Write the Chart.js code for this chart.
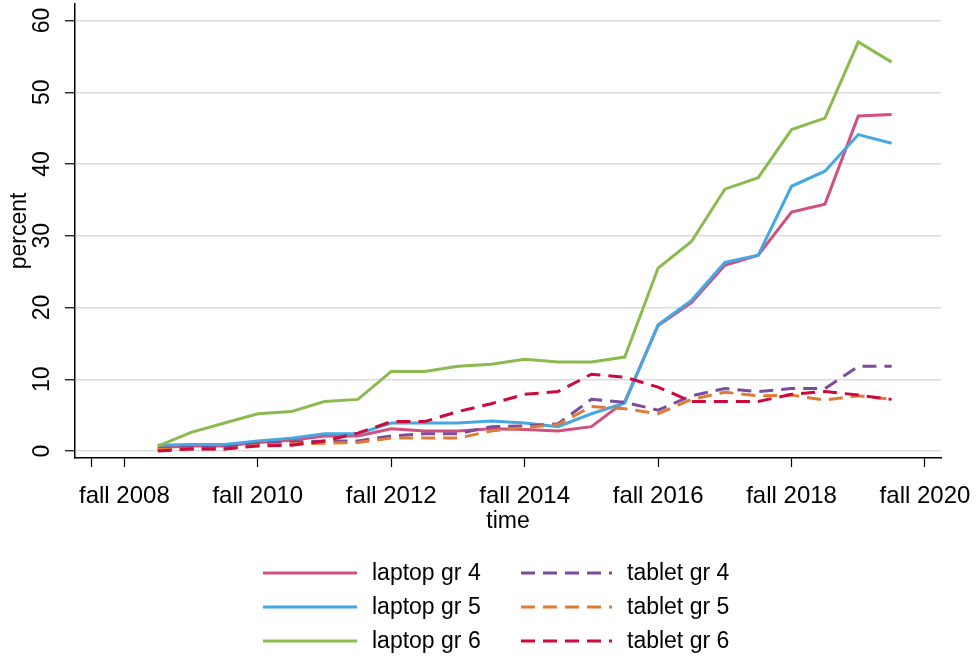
<!DOCTYPE html>
<html lang="en">
<head>
<meta charset="UTF-8">
<title>Laptop and tablet use by grade</title>
<script src="https://cdn.jsdelivr.net/npm/chart.js"></script>
<style>
  html, body { margin: 0; padding: 0; background: #fff; }
</style>
</head>
<body>
<canvas id="deviceChart" width="976" height="661"></canvas>
<script>
// time axis: fall YYYY = YYYY, spring = YYYY + 0.5
const times = [2008.5, 2009, 2009.5, 2010, 2010.5, 2011, 2011.5, 2012, 2012.5, 2013, 2013.5, 2014,
               2014.5, 2015, 2015.5, 2016, 2016.5, 2017, 2017.5, 2018, 2018.5, 2019, 2019.5];

const laptopGr4 = [0.5, 0.7, 0.7, 1.2, 1.5, 2.1, 2.1, 3.1, 2.8, 2.8, 3.1, 3.0,
                   2.8, 3.4, 6.9, 17.5, 20.7, 25.9, 27.3, 33.3, 34.4, 46.7, 46.9];
const laptopGr5 = [0.8, 0.9, 0.9, 1.4, 1.8, 2.4, 2.4, 3.9, 3.9, 3.9, 4.2, 3.9,
                   3.4, 5.2, 6.7, 17.6, 21.0, 26.3, 27.3, 36.9, 39.0, 44.1, 42.9];
const laptopGr6 = [0.7, 2.6, 3.9, 5.2, 5.5, 6.9, 7.2, 11.1, 11.1, 11.8, 12.1, 12.8,
                   12.4, 12.4, 13.1, 25.5, 29.2, 36.5, 38.1, 44.8, 46.4, 57.0, 54.2];
const tabletGr4 = [0.3, 0.5, 0.5, 1.0, 1.25, 1.4, 1.4, 2.1, 2.4, 2.4, 3.4, 3.5,
                   3.8, 7.2, 6.8, 5.7, 7.7, 8.7, 8.3, 8.7, 8.7, 11.8, 11.8];
const tabletGr5 = [0.2, 0.3, 0.3, 0.8, 1.0, 1.1, 1.2, 1.8, 1.8, 1.8, 2.8, 3.3,
                   3.7, 6.2, 5.9, 5.2, 7.2, 8.2, 7.7, 7.8, 7.1, 7.7, 7.2];
const tabletGr6 = [0.0, 0.3, 0.3, 0.7, 0.8, 1.4, 2.5, 4.1, 4.1, 5.5, 6.6, 7.9,
                   8.3, 10.7, 10.3, 8.9, 6.9, 6.9, 6.9, 7.9, 8.3, 7.8, 7.2];

const seriesNames = ['laptop gr 4', 'laptop gr 5', 'laptop gr 6', 'tablet gr 4', 'tablet gr 5', 'tablet gr 6'];
const seriesData = [laptopGr4, laptopGr5, laptopGr6, tabletGr4, tabletGr5, tabletGr6];
const seriesColors = ['#d0507f', '#45a8e2', '#8bbb4f', '#7b4b9c', '#e07b34', '#cc0a3c'];
const dashedSeries = [false, false, false, true, true, true];

const tickYears = [2008, 2010, 2012, 2014, 2016, 2018, 2020];
const tickLabels = ['fall 2008', 'fall 2010', 'fall 2012', 'fall 2014', 'fall 2016', 'fall 2018', 'fall 2020'];
const yTicks = [0, 10, 20, 30, 40, 50, 60];

const FONT = '"Liberation Sans", Arial, sans-serif';
const DASH = [14, 8];

// Stata-style legend: two columns, three rows
const twoColumnLegend = {
    id: 'twoColumnLegend',
    afterDraw(chart) {
        const ctx = chart.ctx;
        ctx.save();
        ctx.font = '23px ' + FONT;
        ctx.textBaseline = 'middle';
        ctx.textAlign = 'left';
        seriesNames.forEach((name, i) => {
            const col = i < 3 ? 0 : 1;
            const row = i % 3;
            const x0 = col === 0 ? 263 : 521;
            const len = col === 0 ? 94 : 91;
            const y = 573 + row * 34;
            ctx.strokeStyle = seriesColors[i];
            ctx.lineWidth = 3;
            ctx.setLineDash(dashedSeries[i] ? DASH : []);
            ctx.beginPath();
            ctx.moveTo(x0, y);
            ctx.lineTo(x0 + len, y);
            ctx.stroke();
            ctx.fillStyle = '#000';
            ctx.fillText(name, x0 + len + 15, y + 1);
        });
        ctx.restore();
    }
};

const ctx = document.getElementById('deviceChart').getContext('2d');
const chart = new Chart(ctx, {
    type: 'line',
    data: {
        datasets: seriesNames.map((name, i) => ({
            label: name,
            data: times.map((t, j) => ({ x: t, y: seriesData[i][j] })),
            borderColor: seriesColors[i],
            backgroundColor: seriesColors[i],
            borderWidth: 3,
            borderDash: dashedSeries[i] ? DASH : [],
            pointRadius: 0,
            tension: 0,
            fill: false,
            order: seriesNames.length - i
        }))
    },
    options: {
        responsive: false,
        animation: false,
        layout: { padding: { left: 0, right: 35, top: 4, bottom: 126 } },
        scales: {
            x: {
                type: 'linear',
                min: 2007.26,
                max: 2020.24,
                afterBuildTicks: scale => {
                    scale.ticks = [2007.5].concat(tickYears).map(v => ({ value: v }));
                },
                afterFit: scale => {
                    scale.height = 77;
                    scale.paddingLeft = 0;
                    scale.paddingRight = 0;
                },
                ticks: {
                    autoSkip: false,
                    maxRotation: 0,
                    padding: 15,
                    color: '#000',
                    font: { family: FONT, size: 24 },
                    callback: (value, index) => index === 0 ? '' : tickLabels[index - 1]
                },
                grid: {
                    drawOnChartArea: false,
                    tickLength: 9,
                    tickColor: '#000',
                    tickWidth: 1.2
                },
                border: { color: '#000', width: 1.5 },
                title: {
                    display: true,
                    text: 'time',
                    color: '#000',
                    font: { family: FONT, size: 23 },
                    padding: 0
                }
            },
            y: {
                min: -0.97,
                max: 62.3,
                afterBuildTicks: scale => {
                    scale.ticks = yTicks.map(v => ({ value: v }));
                },
                afterFit: scale => {
                    scale.width = 75;
                    scale.paddingTop = 0;
                    scale.paddingBottom = 0;
                },
                ticks: {
                    minRotation: 90,
                    maxRotation: 90,
                    crossAlign: 'center',
                    padding: 10,
                    color: '#000',
                    font: { family: FONT, size: 23 }
                },
                grid: {
                    color: '#dcdcdc',
                    lineWidth: 1.5,
                    tickLength: 10,
                    tickColor: '#000',
                    tickWidth: 1.2
                },
                border: { color: '#000', width: 1.5 },
                title: {
                    display: true,
                    text: 'percent',
                    color: '#000',
                    font: { family: FONT, size: 23 },
                    padding: { top: 6, bottom: 0 }
                }
            }
        },
        plugins: {
            legend: { display: false },
            tooltip: { enabled: false }
        }
    },
    plugins: [twoColumnLegend]
});
</script>
</body>
</html>
